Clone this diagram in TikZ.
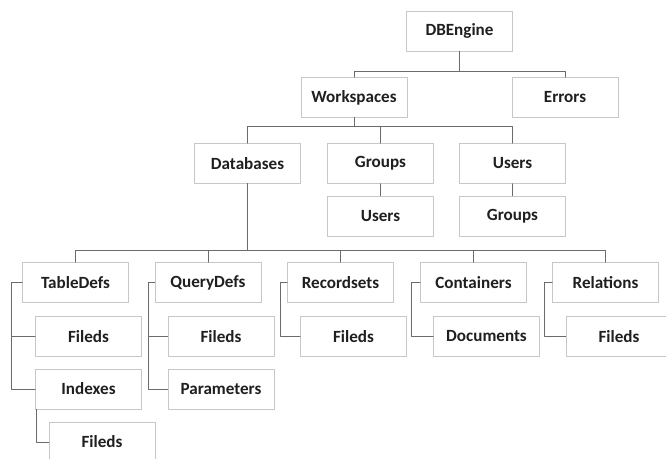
\documentclass[tikz,border=0pt]{standalone}
\usepackage{fontspec}
\setmainfont{Carlito}
\usetikzlibrary{shadows}
\begin{document}
\begin{tikzpicture}[x=0.03cm, y=-0.03cm, line join=round, line cap=round,
  box/.style={draw=black!22, fill=white, minimum width=3.18cm, minimum height=1.2cm,
    inner sep=0pt, font=\fontsize{14.6}{16}\selectfont\bfseries, text=black!88,
    drop shadow={shadow xshift=0.7pt, shadow yshift=-0.7pt, opacity=0.3, fill=black!35}},
  link/.style={draw=black!58, line width=0.7pt}]
\useasboundingbox (0,0) rectangle (666,459);
\clip (0,0) rectangle (666,459);
% top levels
\node[box] (dbe) at (459.5,31) {DBEngine};
\node[box] (wsp) at (354,97.5) {Workspaces};
\node[box] (err) at (565,97.5) {Errors};
\node[box] (dbs) at (247.5,163.5) {Databases};
\node[box] (grp) at (380.5,163.5) {Groups};
\node[box] (usr) at (512.5,163.5) {Users};
\node[box] (gusr) at (380.5,216) {Users};
\node[box] (ugrp) at (512.5,216) {Groups};
% database objects
\node[box] (tdf) at (75.5,282.5) {TableDefs};
\node[box] (qdf) at (208,282.5) {QueryDefs};
\node[box] (rst) at (340.5,282.5) {Recordsets};
\node[box] (ctn) at (473.5,282.5) {Containers};
\node[box] (rel) at (605.5,282.5) {Relations};
\node[box] (tfl) at (88.5,336.5) {Fileds};
\node[box] (idx) at (88.5,389) {Indexes};
\node[box] (ifl) at (102,442) {Fileds};
\node[box] (qfl) at (221,336.5) {Fileds};
\node[box] (prm) at (221,389) {Parameters};
\node[box] (rfl) at (353.5,336.5) {Fileds};
\node[box] (doc) at (486.5,336.5) {Documents};
\node[box] (lfl) at (619,336.5) {Fileds};
% connectors
\draw[link] (dbe.south) -- ++(0,20) -| (wsp.north);
\draw[link] (dbe.south) -- ++(0,20) -| (err.north);
\foreach \n in {dbs,grp,usr}
  \draw[link] (wsp.south) -- ++(0,9) -| (\n.north);
\draw[link] (grp) -- (gusr);
\draw[link] (usr) -- (ugrp);
\foreach \n in {tdf,qdf,rst,ctn,rel}
  \draw[link] (dbs.south) -- ++(0,67) -| (\n.north);
\draw[link] (tdf.west) -- ++(-11,0) coordinate (tdfv) |- (tfl.west);
\draw[link] (tdfv) |- (idx.west);
\draw[link] (idx.south west) ++(1,0) |- (ifl.west);
\draw[link] (qdf.west) -- ++(-6,0) coordinate (qdfv) |- (qfl.west);
\draw[link] (qdfv) |- (prm.west);
\draw[link] (rst.west) -- ++(-7,0) |- (rfl.west);
\draw[link] (ctn.west) -- ++(-9,0) |- (doc.west);
\draw[link] (rel.west) -- ++(-8,0) |- (lfl.west);
\end{tikzpicture}
\end{document}
